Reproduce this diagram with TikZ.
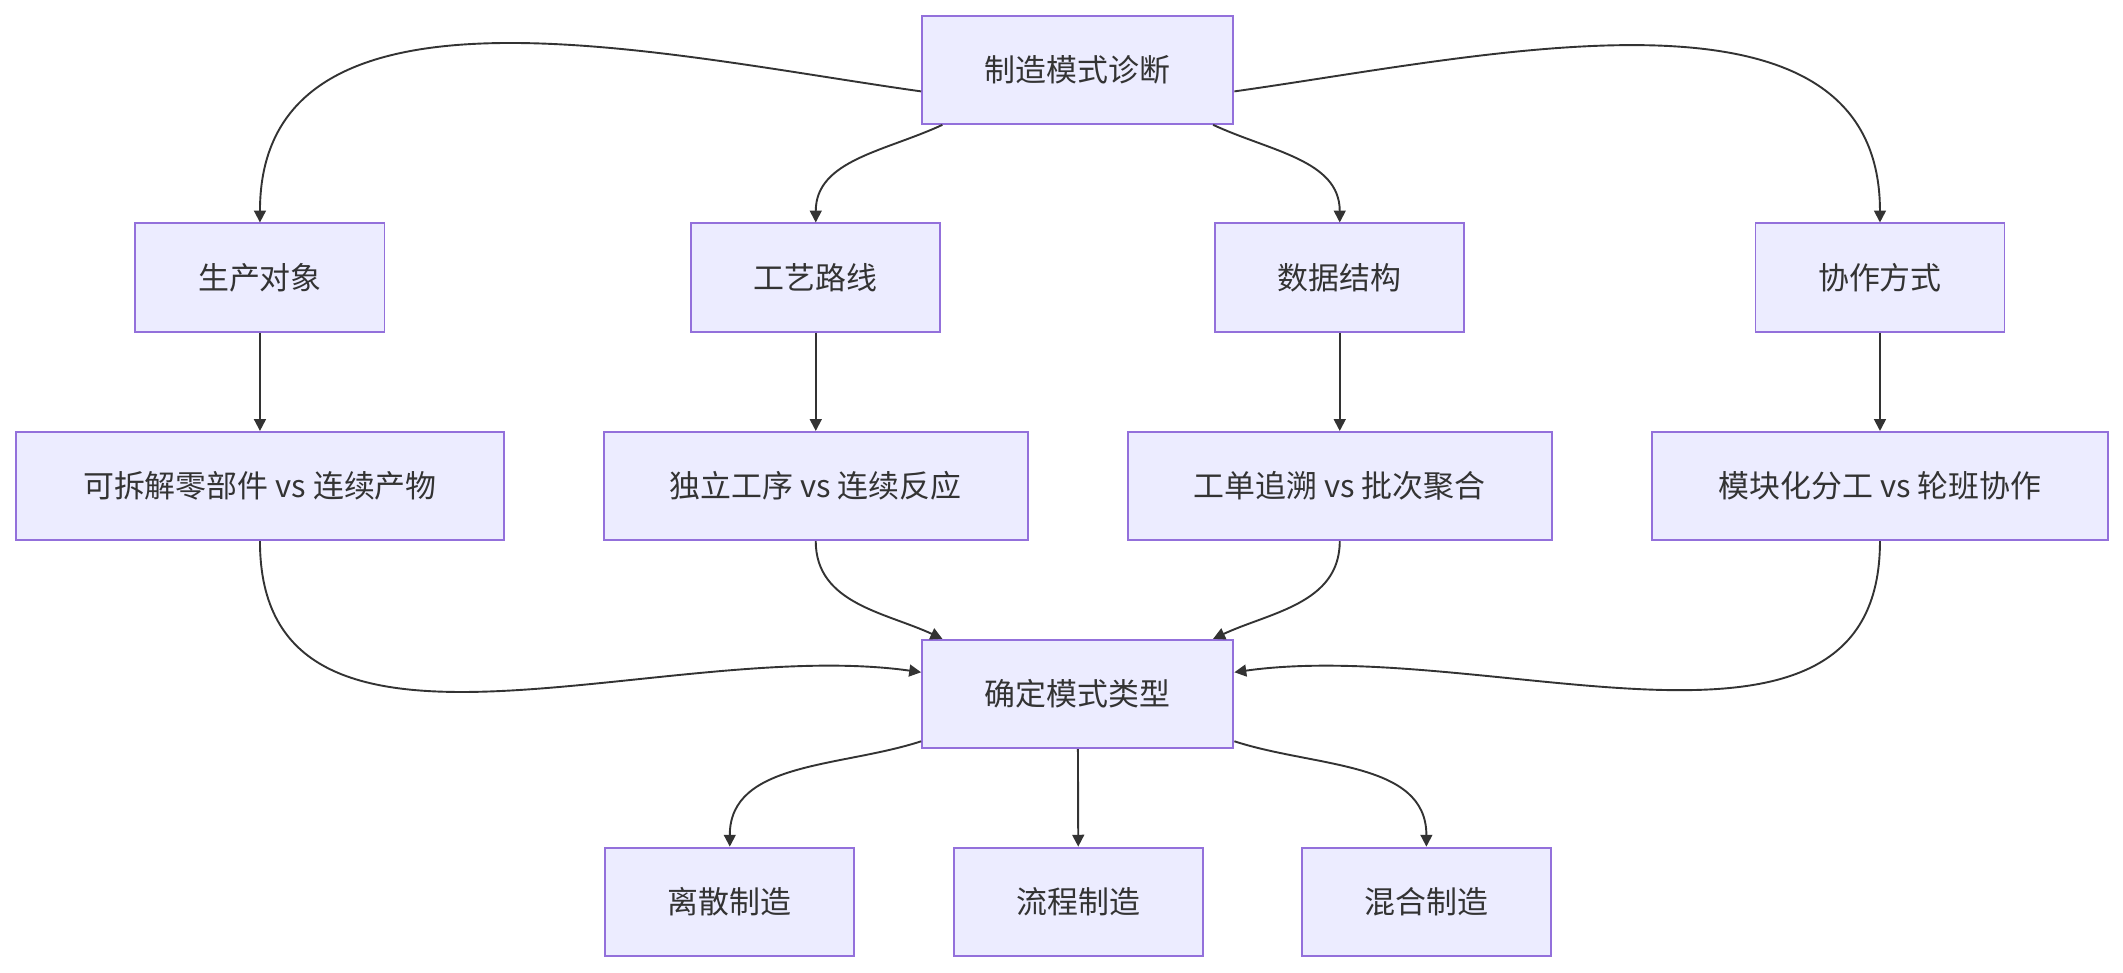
\documentclass[tikz,border=0pt]{standalone}
\usepackage{fontspec}
\setmainfont{Noto Sans CJK SC}
\usetikzlibrary{arrows.meta}
\definecolor{boxfill}{HTML}{ECECFF}
\definecolor{boxline}{HTML}{9370DB}
\definecolor{arrline}{HTML}{333333}
\tikzset{
  box/.style={draw=boxline, fill=boxfill, line width=0.8pt, minimum height=1.6cm,
    inner sep=0pt, font=\fontsize{13}{15}\selectfont, text=arrline},
  arr/.style={draw=arrline, line width=0.8pt, -{Triangle[length=5pt,width=5pt]}}
}
\begin{document}
\begin{tikzpicture}[x=0.02cm, y=-0.02cm]
\useasboundingbox (0,0) rectangle (1568,718);
% nodes
\node [box, minimum width=4.6cm] (diag) at (796,51.5) {制造模式诊断};
\node [box, minimum width=3.68cm] (obj) at (192,205) {生产对象};
\node [box, minimum width=3.68cm] (route) at (602.5,205) {工艺路线};
\node [box, minimum width=3.68cm] (data) at (989.5,205) {数据结构};
\node [box, minimum width=3.68cm] (coop) at (1388.5,205) {协作方式};
\node [box, minimum width=7.2cm] (objvs) at (192,359) {可拆解零部件 vs 连续产物};
\node [box, minimum width=6.26cm] (routevs) at (602.5,359) {独立工序 vs 连续反应};
\node [box, minimum width=6.26cm] (datavs) at (989.5,359) {工单追溯 vs 批次聚合};
\node [box, minimum width=6.74cm] (coopvs) at (1388.5,359) {模块化分工 vs 轮班协作};
\node [box, minimum width=4.6cm] (type) at (796,512.5) {确定模式类型};
\node [box, minimum width=3.68cm] (disc) at (539,666) {离散制造};
\node [box, minimum width=3.68cm] (proc) at (796.5,666) {流程制造};
\node [box, minimum width=3.68cm] (mix) at (1053.5,666) {混合制造};
% edges from top
\draw [arr] ([yshift=-0.32cm]diag.west) to[out=172,in=90] (obj.north);
\draw [arr] ([xshift=-2cm]diag.south) to[out=205,in=90] (route.north);
\draw [arr] ([xshift=2cm]diag.south) to[out=-25,in=90] (data.north);
\draw [arr] ([yshift=-0.32cm]diag.east) to[out=8,in=90] (coop.north);
% straight down
\draw [arr] (obj) -- (objvs);
\draw [arr] (route) -- (routevs);
\draw [arr] (data) -- (datavs);
\draw [arr] (coop) -- (coopvs);
% into type
\draw [arr] (objvs.south) to[out=-90,in=172] ([yshift=0.32cm]type.west);
\draw [arr] (routevs.south) to[out=-90,in=155] ([xshift=-2cm]type.north);
\draw [arr] (datavs.south) to[out=-90,in=25] ([xshift=2cm]type.north);
\draw [arr] (coopvs.south) to[out=-90,in=8] ([yshift=0.32cm]type.east);
% out of type
\draw [arr] ([yshift=-0.7cm]type.west) to[out=198,in=90] (disc.north);
\draw [arr] (type) -- (proc);
\draw [arr] ([yshift=-0.7cm]type.east) to[out=-18,in=90] (mix.north);
\end{tikzpicture}
\end{document}
